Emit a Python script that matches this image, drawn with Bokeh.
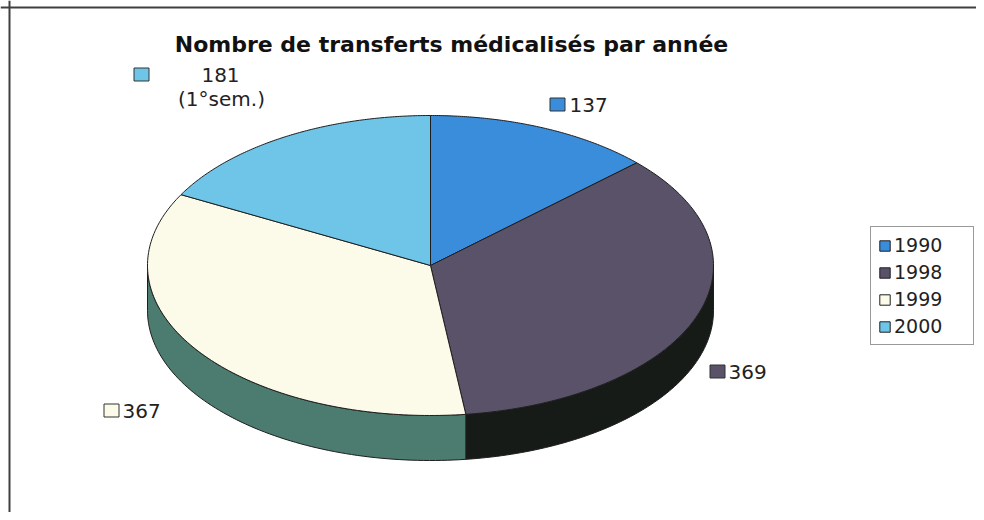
import numpy as np
from bokeh.plotting import figure
from bokeh.models import Range1d, Span, Legend, LegendItem, ColumnDataSource
from bokeh.core.properties import value
from bokeh.embed import file_html
from bokeh.resources import INLINE

# ---------------- data ----------------
years = ["1990", "1998", "1999", "2000"]
counts = [137, 369, 367, 181]
label_texts = ["137", "369", "367", "181"]
note_2000 = "(1°sem.)"
title_text = "Nombre de transferts médicalisés par année"

# ---------------- styles / layout ----------------
top_colors = ["#3a8ddb", "#5a5268", "#fcfae8", "#6ec5e8"]
side_colors = ["#1f5f93", "#161b18", "#4c7b70", "#3d7f97"]
edge = "#1e1e1e"
CX, CY, RX, RY, DEPTH = 430, 265, 283, 150, 45
swatch_pos = [(557, 104), (717, 371), (111, 410), (141, 74)]
text_pos = [(569, 104, "left"), (728, 371, "left"), (122, 410, "left"), (220, 74, "center")]
note_pos = (221, 98)
FONT = "DejaVu Sans"

W, H = 976, 512
p = figure(width=W, height=H, x_range=Range1d(0, W), y_range=Range1d(H, 0),
           output_backend="svg", toolbar_location=None, min_border=0)
p.axis.visible = False
p.grid.visible = False
p.outline_line_color = None
p.background_fill_color = "white"
p.border_fill_color = "white"

# frame lines (top and left)
p.add_layout(Span(location=7, dimension="width", line_color="#404040", line_width=2))
p.add_layout(Span(location=9, dimension="height", line_color="#404040", line_width=2))

# ---------------- pie geometry from values ----------------
total = float(sum(counts))
bounds = np.concatenate([[0.0], np.cumsum(counts) / total * 360.0])


def pt(t_deg, dy=0.0):
    t = np.radians(t_deg)
    return CX + RX * np.sin(t), CY - RY * np.cos(t) + dy


side_xs, side_ys, side_c = [], [], []
top_xs, top_ys = [], []
for i in range(len(counts)):
    a, b = bounds[i], bounds[i + 1]
    lo, hi = max(a, 90.0), min(b, 270.0)
    if hi > lo:
        ts = np.linspace(lo, hi, 80)
        x1, y1 = pt(ts)
        x2, y2 = pt(ts[::-1], DEPTH)
        side_xs.append(list(np.concatenate([x1, x2])))
        side_ys.append(list(np.concatenate([y1, y2])))
        side_c.append(side_colors[i])
    ts = np.linspace(a, b, 120)
    x1, y1 = pt(ts)
    top_xs.append([CX] + list(x1))
    top_ys.append([CY] + list(y1))

p.patches(side_xs, side_ys, fill_color=side_c, line_color=edge, line_width=1)

top_src = ColumnDataSource(dict(xs=top_xs, ys=top_ys, color=top_colors, year=years))
top_r = p.patches("xs", "ys", source=top_src, fill_color="color", line_color=edge, line_width=1)

# ---------------- data labels ----------------
p.rect(x=[s[0] for s in swatch_pos], y=[s[1] for s in swatch_pos], width=15, height=13,
       width_units="screen", height_units="screen", fill_color=top_colors,
       line_color="#333333", line_width=1)
for i, (tx, ty, al) in enumerate(text_pos):
    p.text(x=[tx], y=[ty], text=[label_texts[i]], text_align=al, text_baseline="middle",
           text_font=value(FONT), text_font_size="20px", text_color="#222222")
p.text(x=[note_pos[0]], y=[note_pos[1]], text=[note_2000], text_align="center",
       text_baseline="middle", text_font=value(FONT), text_font_size="20px",
       text_color="#222222")

# title
p.text(x=[451], y=[44], text=[title_text], text_align="center", text_baseline="middle",
       text_font=value(FONT), text_font_size="22px", text_font_style="bold",
       text_color="#111111")

# ---------------- legend ----------------
items = [LegendItem(label=years[i], renderers=[top_r], index=i) for i in range(len(years))]
legend = Legend(items=items, location=(870, 167), orientation="vertical",
                border_line_color="#333333", border_line_width=1,
                background_fill_color="white", background_fill_alpha=1.0,
                padding=7, spacing=5, margin=0,
                glyph_width=13, glyph_height=13, label_standoff=3,
                label_width=72, label_height=20,
                label_text_font=FONT, label_text_font_size="19px",
                label_text_color="#222222")
p.add_layout(legend)

open("out.html", "w").write(file_html(p, INLINE))
